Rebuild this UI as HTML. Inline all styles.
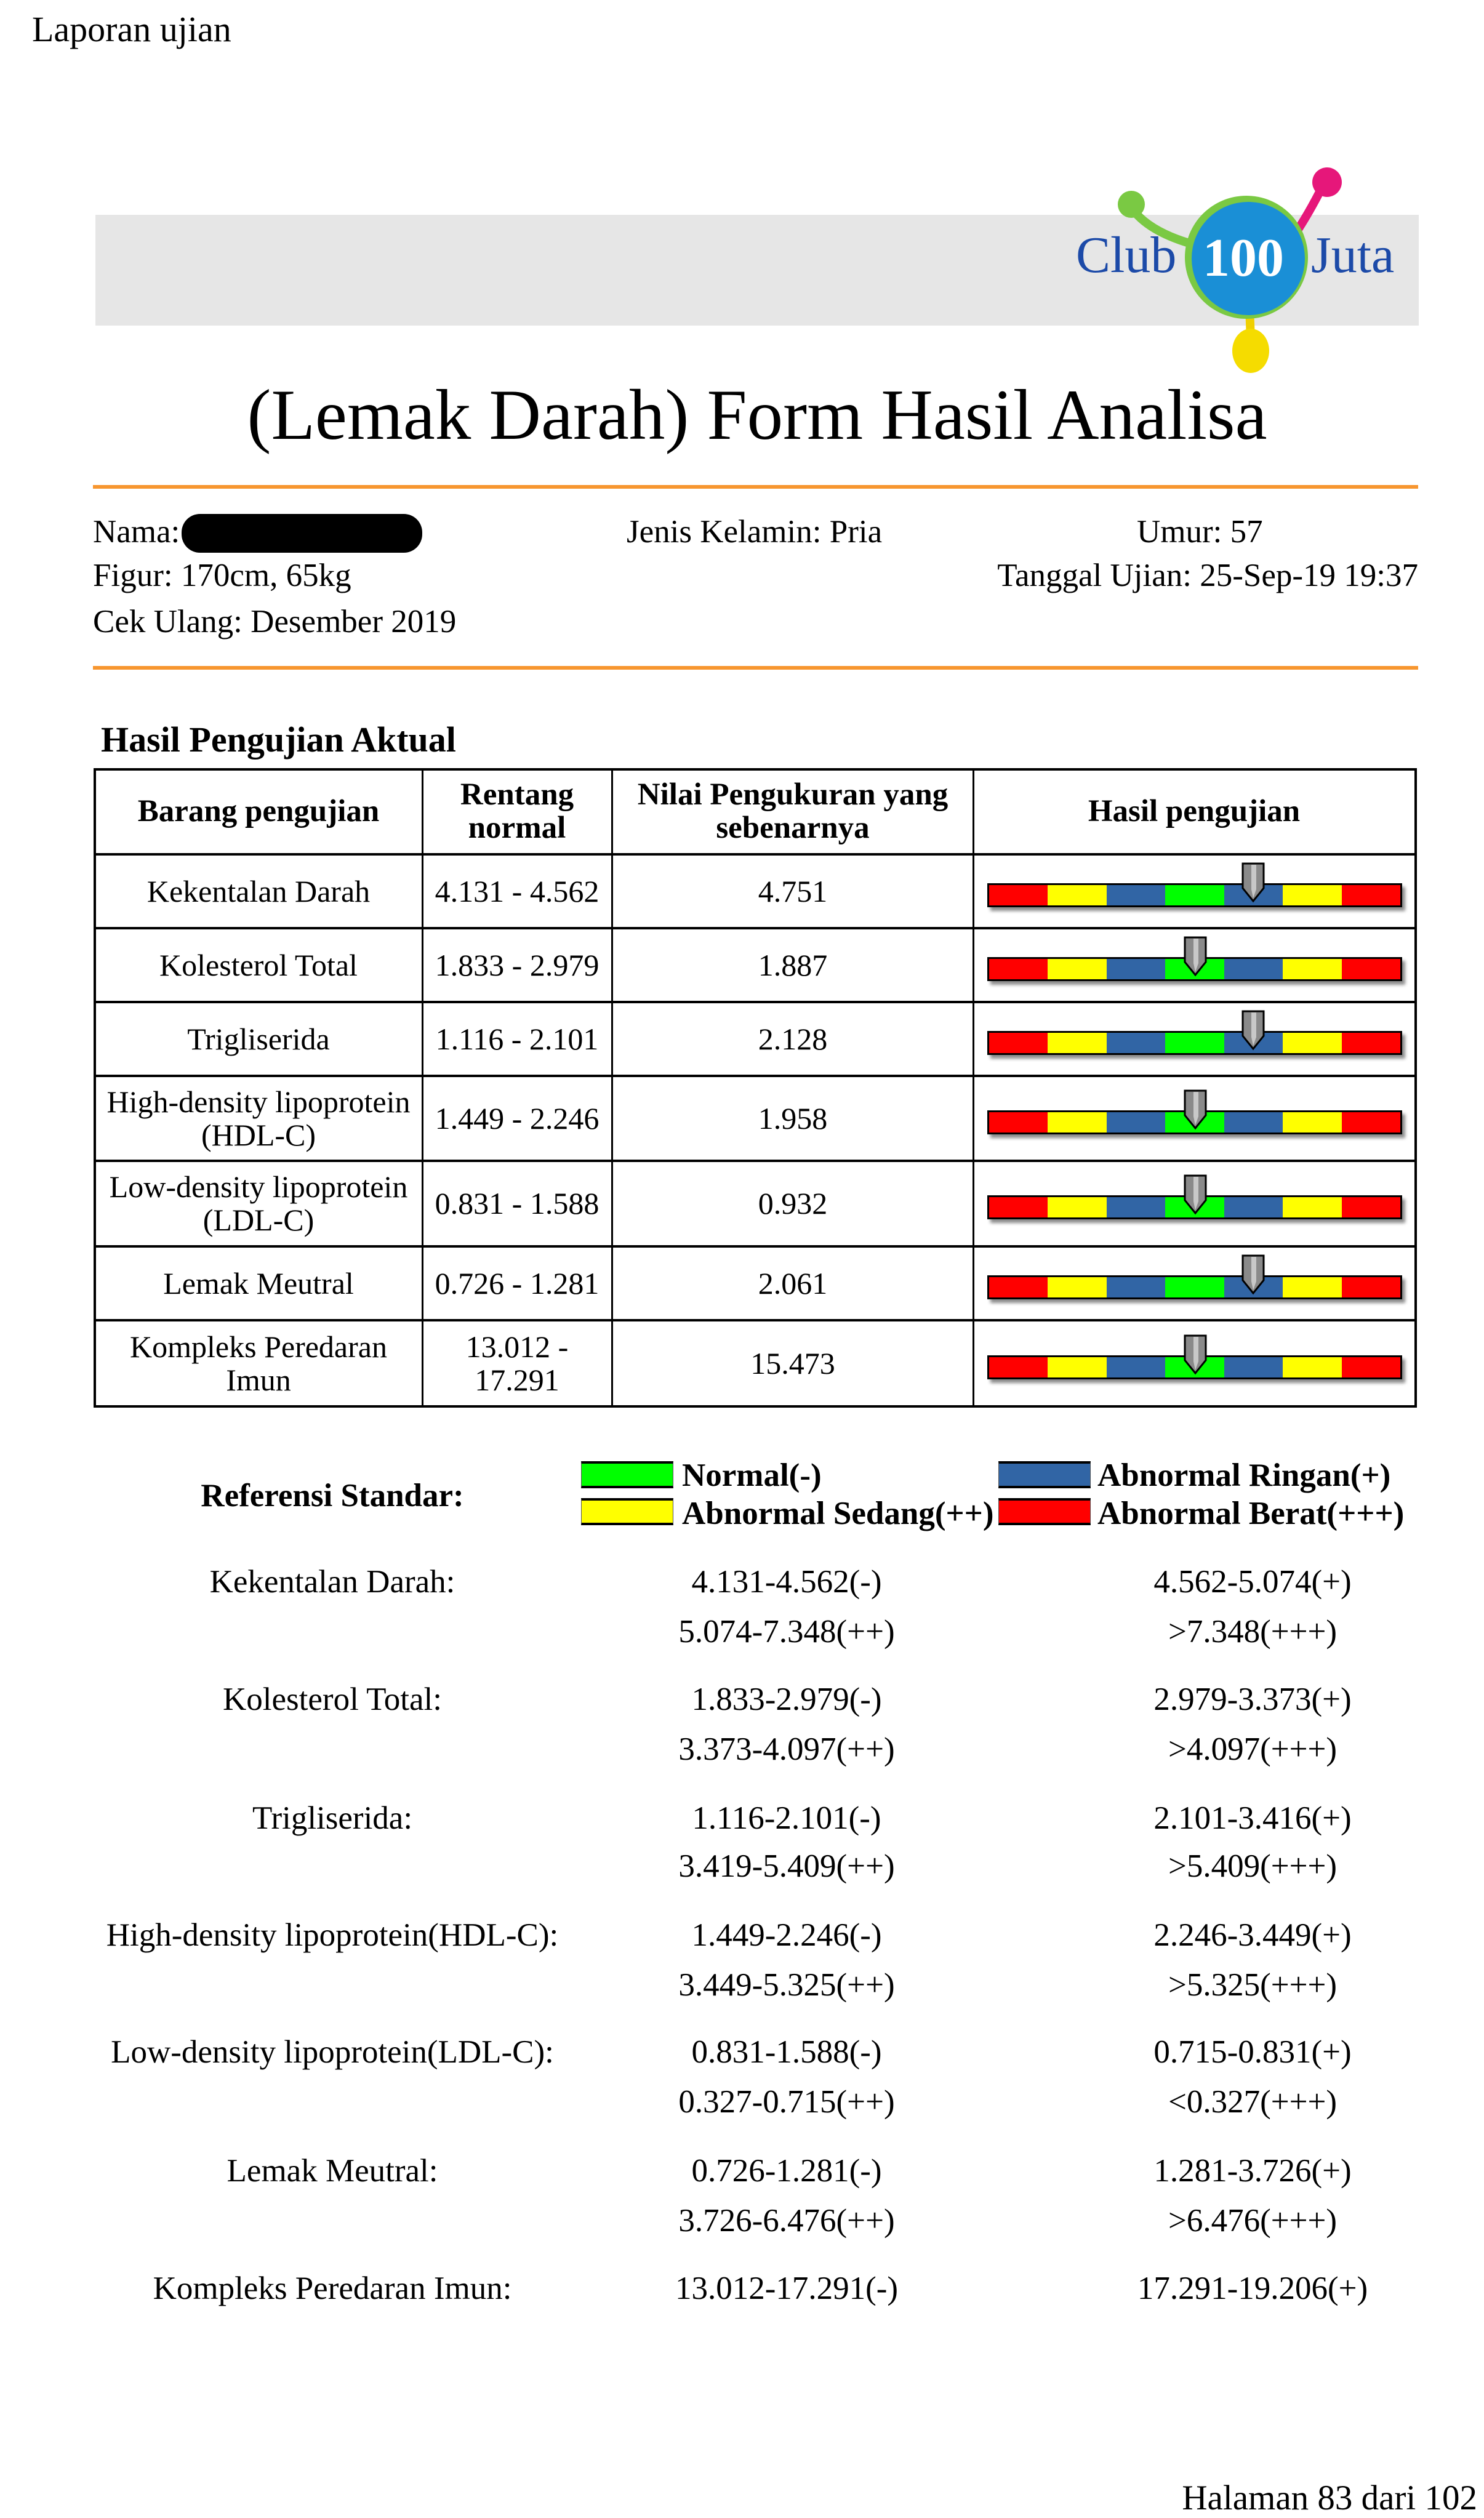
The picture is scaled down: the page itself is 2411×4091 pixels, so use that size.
<!DOCTYPE html>
<html><head><meta charset="utf-8"><style>
body{margin:0;width:2411px;height:4090px;background:#fff;position:relative;overflow:hidden;font-family:"Liberation Serif",serif;color:#000}
.a{position:absolute;white-space:nowrap}
.c{position:absolute;text-align:center;transform:translate(-50%,-50%);white-space:nowrap;font-size:50px;line-height:54px}
.d{font-size:53px}
.ln{position:absolute;background:#000}
.bar{position:absolute;left:1604px;width:674px;height:39px;border:3px solid #000;box-sizing:border-box;display:flex;box-shadow:5px 6px 5px rgba(0,0,0,.45)}
.bar i{flex:1}
.r{background:#ff0000}.y{background:#ffff00}.b{background:#3165a5}.g{background:#00ff00}
.ptr{position:absolute;width:38px;height:66px}
.sw{position:absolute;width:150px;height:44px;border-top:4px solid #000;border-bottom:4px solid #000;border-left:1px solid #555;border-right:1px solid #555;box-sizing:border-box}
.lg{position:absolute;font-weight:bold;font-size:53px;line-height:50px;white-space:nowrap}
.f{font-size:53px}
</style></head><body>
<div class="a" style="left:52px;top:14px;font-size:58px">Laporan ujian</div>

<div class="a" style="left:155px;top:349px;width:2150px;height:180px;background:#e6e6e6"></div>
<svg class="a" style="left:1720px;top:270px" width="600" height="340" viewBox="0 0 600 340">
 <path d="M120 70 Q150 110 230 130" stroke="#7ac943" stroke-width="14" fill="none"/>
 <circle cx="118" cy="62" r="22" fill="#7ac943"/>
 <path d="M370 130 Q400 90 430 30" stroke="#e6177a" stroke-width="14" fill="none"/>
 <circle cx="436" cy="26" r="24" fill="#e6177a"/>
 <path d="M310 230 L312 280" stroke="#f0d000" stroke-width="14"/>
 <ellipse cx="312" cy="300" rx="30" ry="36" fill="#f5dc00"/>
 <circle cx="305" cy="148" r="100" fill="#7ac943"/>
 <circle cx="308" cy="150" r="92" fill="#1a8fd6"/>
 <text x="300" y="178" font-family="Liberation Serif" font-weight="bold" font-size="88" fill="#fff" text-anchor="middle">100</text>
 <text x="28" y="172" font-family="Liberation Serif" font-size="84" fill="#1c4aa8">Club</text>
 <text x="410" y="172" font-family="Liberation Serif" font-size="84" fill="#1c4aa8">Juta</text>
</svg>

<div class="a" style="left:0;width:2460px;text-align:center;top:605px;font-size:117px;line-height:140px">(Lemak Darah) Form Hasil Analisa</div>
<div class="a" style="left:151px;top:788px;width:2153px;height:6px;background:#f7962f"></div>

<div class="a f" style="left:151px;top:834px">Nama:</div>
<div class="a" style="left:295px;top:835px;width:391px;height:63px;background:#000;border-radius:30px"></div>
<div class="a f" style="left:1018px;top:834px">Jenis Kelamin: Pria</div>
<div class="a f" style="left:1847px;top:834px">Umur: 57</div>
<div class="a f" style="left:151px;top:905px">Figur: 170cm, 65kg</div>
<div class="a f" style="right:107px;top:905px">Tanggal Ujian: 25-Sep-19 19:37</div>
<div class="a f" style="left:151px;top:980px">Cek Ulang: Desember 2019</div>
<div class="a" style="left:151px;top:1082px;width:2153px;height:6px;background:#f7962f"></div>

<div class="a" style="left:164px;top:1168px;font-size:58px;font-weight:bold">Hasil Pengujian Aktual</div>

<div class="ln" style="left:152px;top:1248px;width:2150px;height:4px"></div>
<div class="ln" style="left:152px;top:1386px;width:2150px;height:4px"></div>
<div class="ln" style="left:152px;top:1506px;width:2150px;height:4px"></div>
<div class="ln" style="left:152px;top:1626px;width:2150px;height:4px"></div>
<div class="ln" style="left:152px;top:1746px;width:2150px;height:4px"></div>
<div class="ln" style="left:152px;top:1884px;width:2150px;height:4px"></div>
<div class="ln" style="left:152px;top:2023px;width:2150px;height:4px"></div>
<div class="ln" style="left:152px;top:2143px;width:2150px;height:4px"></div>
<div class="ln" style="left:152px;top:2283px;width:2150px;height:4px"></div>
<div class="ln" style="left:152px;top:1248px;width:4px;height:1039px"></div>
<div class="ln" style="left:685px;top:1248px;width:3px;height:1039px"></div>
<div class="ln" style="left:993px;top:1248px;width:3px;height:1039px"></div>
<div class="ln" style="left:1580px;top:1248px;width:3px;height:1039px"></div>
<div class="ln" style="left:2298px;top:1248px;width:4px;height:1039px"></div>

<div class="c" style="left:420px;top:1318px;font-weight:bold;font-size:51px">Barang pengujian</div>
<div class="c" style="left:840px;top:1318px;font-weight:bold;font-size:51px">Rentang<br>normal</div>
<div class="c" style="left:1288px;top:1318px;font-weight:bold;font-size:51px">Nilai Pengukuran yang<br>sebenarnya</div>
<div class="c" style="left:1940px;top:1318px;font-weight:bold;font-size:51px">Hasil pengujian</div>

<div class="c" style="left:420px;top:1448px">Kekentalan Darah</div>
<div class="c" style="left:840px;top:1448px">4.131 - 4.562</div>
<div class="c" style="left:1288px;top:1448px">4.751</div>
<div class="c" style="left:420px;top:1568px">Kolesterol Total</div>
<div class="c" style="left:840px;top:1568px">1.833 - 2.979</div>
<div class="c" style="left:1288px;top:1568px">1.887</div>
<div class="c" style="left:420px;top:1688px">Trigliserida</div>
<div class="c" style="left:840px;top:1688px">1.116 - 2.101</div>
<div class="c" style="left:1288px;top:1688px">2.128</div>
<div class="c" style="left:420px;top:1817px">High-density lipoprotein<br>(HDL-C)</div>
<div class="c" style="left:840px;top:1817px">1.449 - 2.246</div>
<div class="c" style="left:1288px;top:1817px">1.958</div>
<div class="c" style="left:420px;top:1955px">Low-density lipoprotein<br>(LDL-C)</div>
<div class="c" style="left:840px;top:1955px">0.831 - 1.588</div>
<div class="c" style="left:1288px;top:1955px">0.932</div>
<div class="c" style="left:420px;top:2085px">Lemak Meutral</div>
<div class="c" style="left:840px;top:2085px">0.726 - 1.281</div>
<div class="c" style="left:1288px;top:2085px">2.061</div>
<div class="c" style="left:420px;top:2215px">Kompleks Peredaran<br>Imun</div>
<div class="c" style="left:840px;top:2215px">13.012 -<br>17.291</div>
<div class="c" style="left:1288px;top:2215px">15.473</div>

<div class="bar" style="top:1435px"><i class="r"></i><i class="y"></i><i class="b"></i><i class="g"></i><i class="b"></i><i class="y"></i><i class="r"></i></div>
<div class="bar" style="top:1555px"><i class="r"></i><i class="y"></i><i class="b"></i><i class="g"></i><i class="b"></i><i class="y"></i><i class="r"></i></div>
<div class="bar" style="top:1675px"><i class="r"></i><i class="y"></i><i class="b"></i><i class="g"></i><i class="b"></i><i class="y"></i><i class="r"></i></div>
<div class="bar" style="top:1804px"><i class="r"></i><i class="y"></i><i class="b"></i><i class="g"></i><i class="b"></i><i class="y"></i><i class="r"></i></div>
<div class="bar" style="top:1942px"><i class="r"></i><i class="y"></i><i class="b"></i><i class="g"></i><i class="b"></i><i class="y"></i><i class="r"></i></div>
<div class="bar" style="top:2072px"><i class="r"></i><i class="y"></i><i class="b"></i><i class="g"></i><i class="b"></i><i class="y"></i><i class="r"></i></div>
<div class="bar" style="top:2202px"><i class="r"></i><i class="y"></i><i class="b"></i><i class="g"></i><i class="b"></i><i class="y"></i><i class="r"></i></div>

<svg width="0" height="0" style="position:absolute"><defs><g id="p"><path d="M2 2 H36 V42 L19 63 L2 42 Z" fill="#8a8a8a" stroke="#000" stroke-width="3"/><path d="M16 4 H24 V44 L19 58 L16 44 Z" fill="#c8c8c8"/></g></defs></svg>
<svg class="ptr" style="left:2017px;top:1401px" viewBox="0 0 38 66"><use href="#p"/></svg>
<svg class="ptr" style="left:1923px;top:1521px" viewBox="0 0 38 66"><use href="#p"/></svg>
<svg class="ptr" style="left:2017px;top:1641px" viewBox="0 0 38 66"><use href="#p"/></svg>
<svg class="ptr" style="left:1923px;top:1770px" viewBox="0 0 38 66"><use href="#p"/></svg>
<svg class="ptr" style="left:1923px;top:1908px" viewBox="0 0 38 66"><use href="#p"/></svg>
<svg class="ptr" style="left:2017px;top:2038px" viewBox="0 0 38 66"><use href="#p"/></svg>
<svg class="ptr" style="left:1923px;top:2168px" viewBox="0 0 38 66"><use href="#p"/></svg>

<div class="c" style="left:540px;top:2430px;font-weight:bold;font-size:53px">Referensi Standar:</div>
<div class="sw g" style="left:944px;top:2374px"></div>
<div class="lg" style="left:1108px;top:2372px">Normal(-)</div>
<div class="sw b" style="left:1622px;top:2374px"></div>
<div class="lg" style="left:1783px;top:2372px">Abnormal Ringan(+)</div>
<div class="sw y" style="left:944px;top:2434px"></div>
<div class="lg" style="left:1108px;top:2434px">Abnormal Sedang(++)</div>
<div class="sw r" style="left:1622px;top:2434px"></div>
<div class="lg" style="left:1783px;top:2434px">Abnormal Berat(+++)</div>

<div class="c d" style="left:540px;top:2570px">Kekentalan Darah:</div>
<div class="c d" style="left:1278px;top:2570px">4.131-4.562(-)</div>
<div class="c d" style="left:2035px;top:2570px">4.562-5.074(+)</div>
<div class="c d" style="left:1278px;top:2651px">5.074-7.348(++)</div>
<div class="c d" style="left:2035px;top:2651px">&gt;7.348(+++)</div>

<div class="c d" style="left:540px;top:2761px">Kolesterol Total:</div>
<div class="c d" style="left:1278px;top:2761px">1.833-2.979(-)</div>
<div class="c d" style="left:2035px;top:2761px">2.979-3.373(+)</div>
<div class="c d" style="left:1278px;top:2842px">3.373-4.097(++)</div>
<div class="c d" style="left:2035px;top:2842px">&gt;4.097(+++)</div>

<div class="c d" style="left:540px;top:2954px">Trigliserida:</div>
<div class="c d" style="left:1278px;top:2954px">1.116-2.101(-)</div>
<div class="c d" style="left:2035px;top:2954px">2.101-3.416(+)</div>
<div class="c d" style="left:1278px;top:3032px">3.419-5.409(++)</div>
<div class="c d" style="left:2035px;top:3032px">&gt;5.409(+++)</div>

<div class="c d" style="left:540px;top:3144px">High-density lipoprotein(HDL-C):</div>
<div class="c d" style="left:1278px;top:3144px">1.449-2.246(-)</div>
<div class="c d" style="left:2035px;top:3144px">2.246-3.449(+)</div>
<div class="c d" style="left:1278px;top:3225px">3.449-5.325(++)</div>
<div class="c d" style="left:2035px;top:3225px">&gt;5.325(+++)</div>

<div class="c d" style="left:540px;top:3334px">Low-density lipoprotein(LDL-C):</div>
<div class="c d" style="left:1278px;top:3334px">0.831-1.588(-)</div>
<div class="c d" style="left:2035px;top:3334px">0.715-0.831(+)</div>
<div class="c d" style="left:1278px;top:3415px">0.327-0.715(++)</div>
<div class="c d" style="left:2035px;top:3415px">&lt;0.327(+++)</div>

<div class="c d" style="left:540px;top:3527px">Lemak Meutral:</div>
<div class="c d" style="left:1278px;top:3527px">0.726-1.281(-)</div>
<div class="c d" style="left:2035px;top:3527px">1.281-3.726(+)</div>
<div class="c d" style="left:1278px;top:3608px">3.726-6.476(++)</div>
<div class="c d" style="left:2035px;top:3608px">&gt;6.476(+++)</div>

<div class="c d" style="left:540px;top:3718px">Kompleks Peredaran Imun:</div>
<div class="c d" style="left:1278px;top:3718px">13.012-17.291(-)</div>
<div class="c d" style="left:2035px;top:3718px">17.291-19.206(+)</div>

<div class="a" style="right:11px;top:4026px;font-size:57px">Halaman 83 dari 102</div>
</body></html>
